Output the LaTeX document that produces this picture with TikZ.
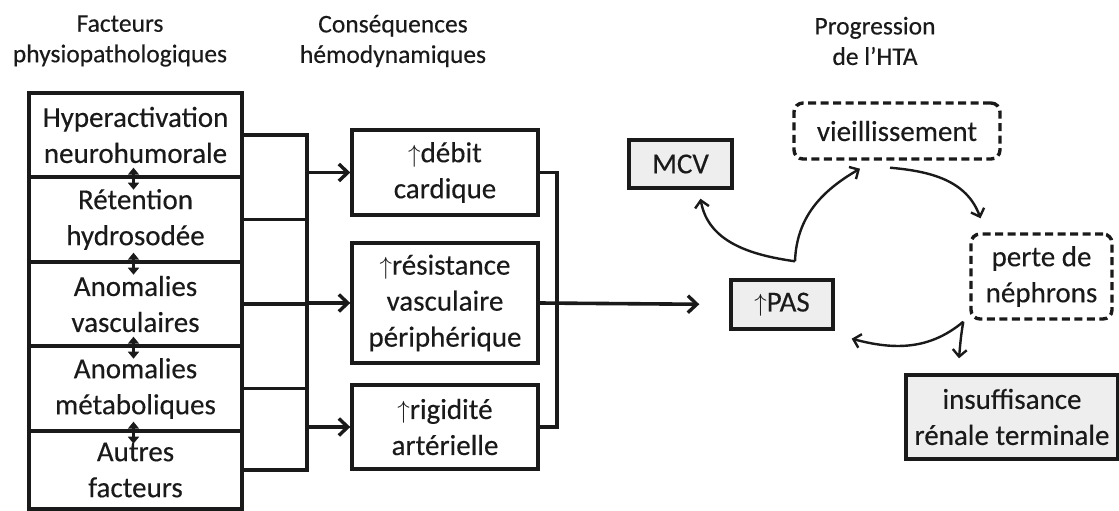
\documentclass[tikz,border=0pt]{standalone}
\usepackage{fontspec}
\setmainfont{Carlito}[FakeBold=0.3]
\usetikzlibrary{arrows.meta}
\definecolor{txt}{HTML}{1A1A1A}
\definecolor{gfill}{HTML}{EEEEEE}
\begin{document}
\begin{tikzpicture}[x=1pt,y=-1pt,
  font=\fontsize{29}{36}\selectfont, text=txt,
  box/.style={draw=txt, line width=3.4pt, inner sep=0pt, align=center},
  lbox/.style={box, minimum width=213pt},
  mbox/.style={box, minimum width=186pt},
  gbox/.style={box, fill=gfill},
  dbox/.style={box, dash pattern=on 8pt off 4.5pt, rounded corners=9pt},
  title/.style={font=\fontsize{25.5}{30.5}\selectfont, align=center},
  thickline/.style={draw=txt, line width=3.6pt},
  arr/.style={thickline, -{Straight Barb[length=9pt,width=17pt,line width=3.4pt]}},
  carr/.style={draw=txt, line width=2.4pt, -{Straight Barb[length=7pt,width=14pt,line width=2.4pt]}},
  dbl/.style={draw=txt, line width=3.4pt, {Triangle[length=7pt,width=11pt]}-{Triangle[length=7pt,width=11pt]}}
]
\useasboundingbox (0,0) rectangle (1119,511);
\fill[white] (0,0) rectangle (1119,511);

% titles
\node[title] (t1) at (120,41) {Facteurs\\physiopathologiques};
\node[title] (t2) at (393,41) {Conséquences\\hémodynamiques};
\node[title] (t3) at (875,41) {Progression\\de l’HTA};

% left column
\node[lbox, minimum height=84pt] (l1) at (135.5,135) {Hyperactivation\\neurohumorale};
\node[lbox, minimum height=85pt] (l2) at (135.5,219.5) {Rétention\\hydrosodée};
\node[lbox, minimum height=84pt] (l3) at (135.5,304) {Anomalies\\vasculaires};
\node[lbox, minimum height=85pt] (l4) at (135.5,388.5) {Anomalies\\métaboliques};
\node[lbox, minimum height=78pt] (l5) at (135.5,470) {Autres\\facteurs};

% double arrows between left boxes
\foreach \b in {l1,l2,l3,l4}{
  \draw[dbl] ([xshift=-2pt,yshift=11pt]\b.south) -- ([xshift=-2pt,yshift=-11pt]\b.south);
}

% middle column
\node[mbox, minimum height=85pt] (m1) at (445,172.5) {$\uparrow$débit\\cardique};
\node[mbox, minimum height=120pt] (m2) at (445,303) {$\uparrow$résistance\\vasculaire\\périphérique};
\node[mbox, minimum height=84pt] (m3) at (445,427) {$\uparrow$rigidité\\artérielle};

% left bus
\coordinate (bL) at (307,0);
\foreach \b in {l1,l2,l3,l4,l5}{
  \draw[thickline] (\b.east) -- (\b.east -| bL);
}
\draw[thickline, line cap=rect] (l1.east -| bL) -- (l5.east -| bL);
\foreach \m in {m1,m2,m3}{
  \draw[arr] (\m.west -| bL) -- (\m.west);
}

% right part nodes
\node[gbox, minimum width=102pt, minimum height=49pt] (pas) at (782,304.5) {$\uparrow$PAS};
\node[gbox, minimum width=103pt, minimum height=48pt] (mcv) at (680.5,164) {MCV};
\node[dbox, minimum width=206pt, minimum height=56pt] (vie) at (897,131) {vieillissement};
\node[dbox, minimum width=141pt, minimum height=85pt] (per) at (1041.5,276.5) {perte de\\néphrons};
\node[gbox, minimum width=212pt, minimum height=84pt] (ins) at (1012,417) {insuffisance\\rénale terminale};

% right bus
\coordinate (bR) at (557,0);
\draw[thickline, line cap=rect] (m1.east) -- (m1.east -| bR) -- (m3.east -| bR) -- (m3.east);
\draw[arr, shorten >=30pt] (m2.east) -- (pas.west);

% curved arrows
\coordinate (j1) at ([xshift=13pt,yshift=17pt]pas.north);
\draw[carr] (j1) to[out=172,in=-80] ([xshift=20pt,yshift=-9pt]mcv.south);
\draw[carr] (j1) to[out=88,in=-150] ([xshift=-37pt,yshift=-8pt]vie.south);
\draw[carr] ([xshift=-7pt,yshift=-7pt]vie.south) to[out=-5,in=110] ([xshift=-61pt,yshift=14pt]per.north);
\coordinate (j2) at ([xshift=-6pt,yshift=-1pt]per.south west);
\draw[carr] (j2) to[out=-140,in=-15] ([xshift=17pt,yshift=-8pt]pas.south east);
\draw[carr] (j2) to[out=-100,in=85] ([xshift=-53pt,yshift=15pt]ins.north);
\end{tikzpicture}
\end{document}
